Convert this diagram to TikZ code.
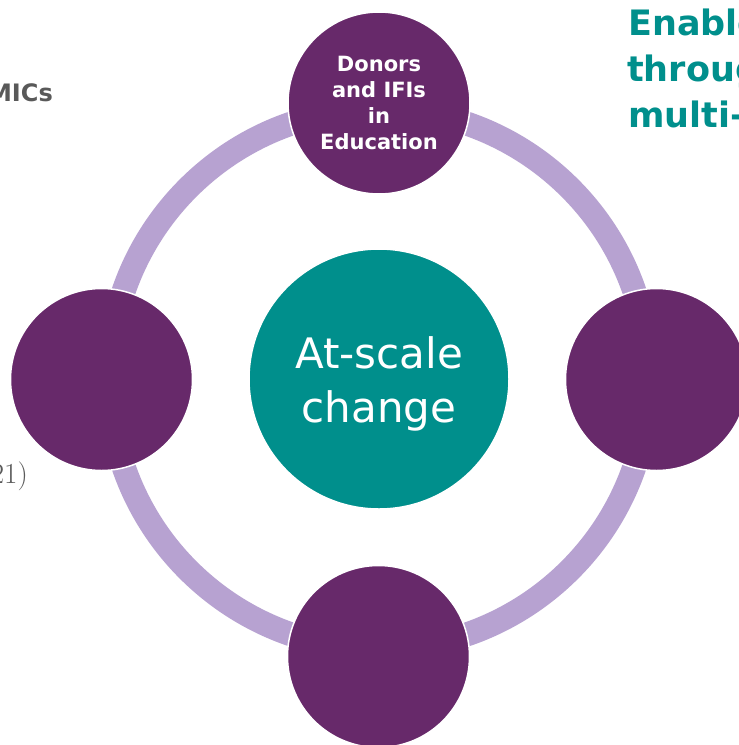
\documentclass[tikz,border=0pt]{standalone}
\usepackage{fontspec}
\setmainfont{DejaVu Sans}
\newfontfamily\lmserif{Latin Modern Roman}
\definecolor{cpurple}{RGB}{103,41,106}
\definecolor{clilac}{RGB}{183,162,209}
\definecolor{cteal}{RGB}{0,143,140}
\definecolor{cgray}{RGB}{89,89,89}
\tikzset{
  ring/.style={draw=clilac, line width=24pt},
  outer/.style={circle, fill=cpurple, draw=white, line width=1.5pt, minimum size=182pt, inner sep=0pt, text=white, align=center, font=\bfseries\fontsize{21}{26}\selectfont},
  hub/.style={circle, fill=cteal, draw=white, line width=1.5pt, minimum size=260pt, inner sep=0pt},
  hubtext/.style={text=white, align=center, font=\fontsize{42}{54}\selectfont, inner sep=0pt},
  sidegray/.style={text=cgray, inner sep=0pt},
  tealhead/.style={text=cteal, inner sep=0pt, font=\bfseries\fontsize{35}{46}\selectfont},
}
\begin{document}
\begin{tikzpicture}[x=1pt, y=-1pt]
\useasboundingbox (0,0) rectangle (739,745);
\fill[white] (0,0) rectangle (739,745);
\coordinate (c) at (379,379);
\draw[ring] (c) circle (270);
\node[hub] (hub) at (c) {};
\node[hubtext] (hubt) at ([yshift=-5pt]hub.center) {At-scale\\change};
\node[outer] (top) at (379,103) {Donors\\and IFIs\\in\\Education};
\node[outer] (left) at (101.5,379.5) {};
\node[outer] (right) at (656.5,379.5) {};
\node[outer] (bottom) at (378.5,656.5) {};
\node[sidegray, anchor=base east, font=\bfseries\fontsize{24}{28}\selectfont] (mics) at (53,101) {MICs};
\node[sidegray, anchor=base east, font=\lmserif\fontsize{29}{34}\selectfont] (yr) at (28,483) {21)};
\node[tealhead, anchor=base west] (e1) at (628,35) {Enable};
\node[tealhead, anchor=base west] (e2) at (627,81) {through};
\node[tealhead, anchor=base west] (e3) at (628,127) {multi-};
\end{tikzpicture}
\end{document}
